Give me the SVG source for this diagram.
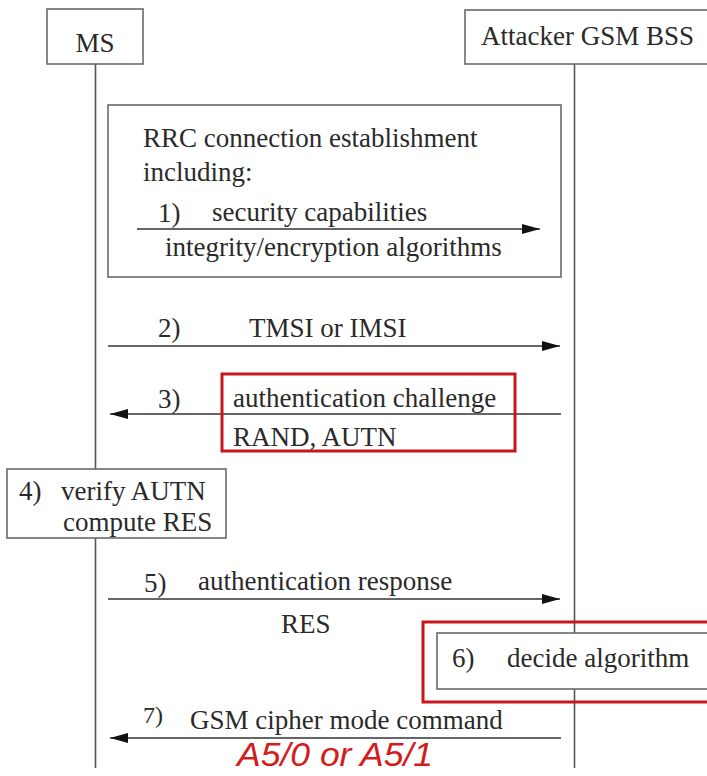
<svg xmlns="http://www.w3.org/2000/svg" width="707" height="776" viewBox="0 0 707 776">
<style>
.t{font-family:"Liberation Serif","Times New Roman",serif;font-size:27px;fill:#2a2a2a}
.box{fill:#fff;stroke:#6a6a6a;stroke-width:1.6}
.life{stroke:#555;stroke-width:1.6;fill:none}
.msg{stroke:#333;stroke-width:1.6;fill:none;marker-end:url(#ah)}
.hl{fill:none;stroke:#c8161d;stroke-width:3}
.red{font-family:"Liberation Sans",Arial,sans-serif;font-style:italic;font-size:34px;fill:#d41c1c}
</style>
<defs>
<marker id="ah" viewBox="0 0 18 10" refX="18" refY="5" markerUnits="userSpaceOnUse" markerWidth="18" markerHeight="10" orient="auto">
<path d="M0,0 L18,5 L0,10 z" fill="#111"/>
</marker>
</defs>
<rect width="707" height="776" fill="#fff"/>
<g id="lifelines">
<line class="life" x1="95.5" y1="64" x2="95.5" y2="768"/>
<line class="life" x1="574.5" y1="64" x2="574.5" y2="768"/>
</g>
<g id="ms">
<rect class="box" x="47" y="9" width="96" height="55"/>
<text class="t" x="95" y="52" text-anchor="middle">MS</text>
</g>
<g id="bss">
<rect class="box" x="465" y="10" width="260" height="54"/>
<text class="t" x="481" y="45">Attacker GSM BSS</text>
</g>
<g id="rrc">
<rect class="box" x="108" y="105" width="453" height="172"/>
<text class="t" x="143" y="147">RRC connection establishment</text>
<text class="t" x="143" y="181">including:</text>
</g>
<g id="step4">
<rect class="box" x="7" y="469" width="219" height="69"/>
<text class="t" x="19" y="500">4)</text>
<text class="t" x="61" y="500">verify AUTN</text>
<text class="t" x="63" y="531">compute RES</text>
</g>
<g id="step6">
<rect class="box" x="437" y="633" width="290" height="56"/>
<text class="t" x="452" y="667">6)</text>
<text class="t" x="507" y="667">decide algorithm</text>
<rect class="hl" x="423" y="622" width="300" height="80"/>
</g>
<g id="connectors">
<line class="msg" x1="137" y1="229" x2="540" y2="229"/>
<line class="msg" x1="108" y1="346" x2="560" y2="346"/>
<line class="msg" x1="561" y1="414" x2="110" y2="414"/>
<line class="msg" x1="108" y1="599" x2="560" y2="599"/>
<line class="msg" x1="561" y1="738" x2="110" y2="738"/>
</g>
<g id="labels">
<text class="t" x="158" y="222">1)</text>
<text class="t" x="212" y="221">security capabilities</text>
<text class="t" x="165" y="256">integrity/encryption algorithms</text>
<text class="t" x="158" y="337">2)</text>
<text class="t" x="249" y="337">TMSI or IMSI</text>
<text class="t" x="158" y="408">3)</text>
<text class="t" x="233" y="407">authentication challenge</text>
<text class="t" x="233" y="446">RAND, AUTN</text>
<rect class="hl" x="222" y="374" width="293" height="77"/>
<text class="t" x="144" y="592">5)</text>
<text class="t" x="198" y="590">authentication response</text>
<text class="t" x="281" y="633">RES</text>
<text class="t" x="143" y="723" style="font-size:24px">7)</text>
<text class="t" x="190" y="729">GSM cipher mode command</text>
<text class="red" x="237" y="766" textLength="196" lengthAdjust="spacingAndGlyphs">A5/0 or A5/1</text>
</g>
</svg>
